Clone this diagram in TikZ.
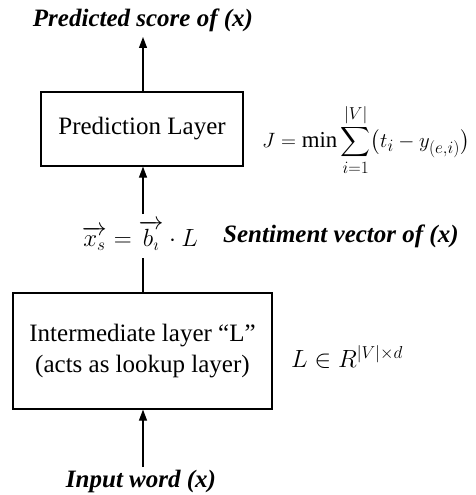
\documentclass[tikz,border=0pt]{standalone}
\usepackage{amsmath}
\usepackage{fontspec}
\setmainfont{Liberation Serif}
\usetikzlibrary{arrows.meta}
\begin{document}
\begin{tikzpicture}[x=1pt,y=-1pt,
  layer/.style={draw,line width=1.2pt,inner sep=0pt,align=center,font=\fontsize{25}{31}\selectfont},
  lbl/.style={font=\fontsize{25}{30}\selectfont\bfseries\itshape,inner sep=0pt},
  eq/.style={font=\fontsize{24}{28}\selectfont,inner sep=0pt},
  arr/.style={line width=1.2pt,-{Triangle[length=11pt,width=8pt]}},
  ln/.style={line width=1.2pt}]
\useasboundingbox (0,0) rectangle (476,495);
\node[lbl] (out) at (143,20) {Predicted score of (x)};
\node[layer,minimum width=202pt,minimum height=74pt] (pred) at (142,129) {Prediction Layer};
\node[eq,anchor=west,font=\fontsize{22.8}{27}\selectfont] (J) at (262,140) {$\displaystyle J=\min\sum_{i=1}^{|V|}\bigl(t_i-y_{(e,i)}\bigr)$};
\node[eq,font=\fontsize{26}{30}\selectfont] (xs) at (140,235) {$\overrightarrow{x_s}=\overrightarrow{b_\imath}\cdot L$};
\node[lbl,anchor=west] (sv) at (223,236) {Sentiment vector of (x)};
\node[layer,minimum width=259pt,minimum height=116pt] (inter) at (142.5,351) {Intermediate layer “L”\\(acts as lookup layer)};
\node[eq,anchor=west] (LR) at (291,357) {$L\in R^{|V|\times d}$};
\node[lbl] (in) at (141,481) {Input word (x)};
\coordinate (a1) at (143,37);
\coordinate (a2) at (143,214);
\coordinate (a3) at (143,258);
\coordinate (a4) at (143,467);
\draw[arr] (pred.north -| a1) -- (a1);
\draw[arr] (a2) -- (pred.south -| a2);
\draw[ln] (a3) -- (inter.north -| a3);
\draw[arr] (a4) -- (inter.south -| a4);
\end{tikzpicture}
\end{document}
